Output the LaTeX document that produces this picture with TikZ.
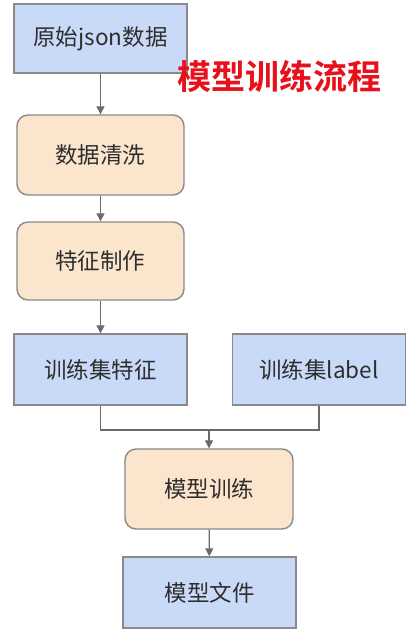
\documentclass[tikz,border=0pt]{standalone}
\usepackage{fontspec}
\setmainfont{Noto Sans CJK SC}
\newfontfamily\titlefont{Noto Sans CJK SC Bold}
\usetikzlibrary{arrows.meta}
\definecolor{bluefill}{HTML}{C9DAF8}
\definecolor{orangefill}{HTML}{FCE5CD}
\definecolor{boxline}{HTML}{8A8A8A}
\definecolor{arrowc}{HTML}{6A6A6A}
\definecolor{titlered}{HTML}{E8101A}
\tikzset{
  x=1pt,y=1pt,
  base/.style={draw=boxline,line width=1.4pt,inner sep=0pt,font=\fontsize{22.5}{26}\selectfont,text=black!82},
  bluebox/.style={base,fill=bluefill,rectangle},
  orangebox/.style={base,fill=orangefill,rectangle,rounded corners=11pt},
  conn/.style={draw=arrowc,line width=1.3pt},
  arr/.style={conn,-{Triangle[width=8pt,length=8pt]}},
}
\begin{document}
\begin{tikzpicture}
\useasboundingbox (0,0) rectangle (411,-630);
\fill[white] (0,0) rectangle (411,-630);
\node[bluebox,minimum width=173pt,minimum height=69pt] (b1) at (100.5,-38.5) {原始json数据};
\node[orangebox,minimum width=167pt,minimum height=80pt] (b2) at (100.5,-155) {数据清洗};
\node[orangebox,minimum width=167pt,minimum height=78pt] (b3) at (100.5,-261) {特征制作};
\node[bluebox,minimum width=173pt,minimum height=71pt] (b4) at (100.5,-369.5) {训练集特征};
\node[bluebox,minimum width=173pt,minimum height=71pt] (b5) at (319,-369.5) {训练集label};
\node[orangebox,minimum width=168pt,minimum height=80pt] (b6) at (209,-489) {模型训练};
\node[bluebox,minimum width=173pt,minimum height=71pt] (b7) at (209.5,-592.5) {模型文件};
\coordinate (j) at (209,-430);
\draw[arr] (b1) -- (b2);
\draw[arr] (b2) -- (b3);
\draw[arr] (b3) -- (b4);
\draw[conn] (b4.south) |- (j);
\draw[conn] (b5.south) |- (j);
\draw[arr] (j) -- (b6.north);
\draw[arr] (b6) -- (b7);
\node[font=\titlefont\fontsize{34}{38}\selectfont,text=titlered] (title) at (279.5,-76) {模型训练流程};
\end{tikzpicture}
\end{document}
